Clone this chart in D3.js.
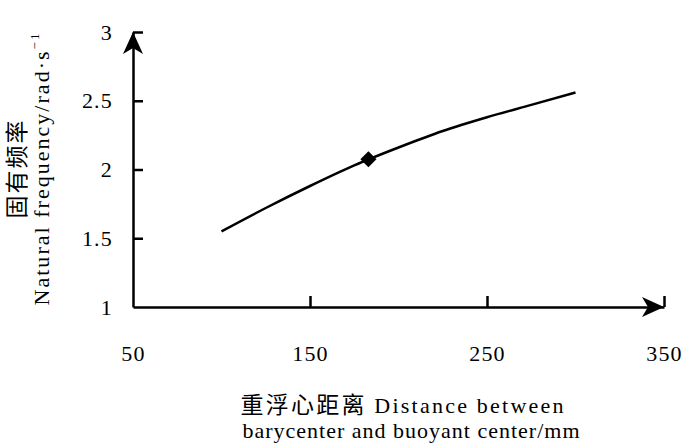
<!DOCTYPE html>
<html>
<head>
<meta charset="utf-8">
<script src="https://cdn.jsdelivr.net/npm/d3@7"></script>
<style>
  body { margin: 0; background: #fff; }
  svg { display: block; }
  text { font-family: "Liberation Serif", "Times New Roman", serif; fill: #000; }
  .cjk { font-family: "Noto Sans CJK SC", sans-serif; }
</style>
</head>
<body>
<svg id="chart"></svg>
<script>
// distance between barycenter and buoyant center (mm) and natural frequency (rad/s)
const distance = [100, 125, 150, 175, 200, 225, 250, 275, 300];
const frequency = [1.55, 1.72, 1.88, 2.03, 2.16, 2.28, 2.38, 2.47, 2.56];
const marker = { distance: 183, frequency: 2.075 };
const xTicks = [50, 150, 250, 350];
const yTicks = [1, 1.5, 2, 2.5, 3];

const width = 700, height = 447;
const margin = { top: 32, right: 36, bottom: 140, left: 133 };

const svg = d3.select("#chart").attr("width", width).attr("height", height);

const x = d3.scaleLinear().domain([50, 350]).range([margin.left, width - margin.right]);
const y = d3.scaleLinear().domain([1, 3]).range([height - margin.bottom, margin.top]);

// X axis
const gx = svg.append("g")
  .attr("transform", `translate(0,${y(1)})`)
  .call(d3.axisBottom(x).tickValues(xTicks).tickFormat(d3.format("d"))
    .tickSizeInner(-11).tickSizeOuter(0).tickPadding(38));
gx.select(".domain").attr("stroke-width", 2.5);
gx.selectAll(".tick line").attr("stroke-width", 2.5);
gx.selectAll(".tick").filter(d => d === 50).select("line").remove();
gx.selectAll("text").style("font-size", "22px").style("letter-spacing", "1.2px")
  .attr("font-family", null);

// Y axis
const gy = svg.append("g")
  .attr("transform", `translate(${x(50)},0)`)
  .call(d3.axisLeft(y).tickValues(yTicks).tickFormat(d3.format(""))
    .tickSizeInner(-10).tickSizeOuter(0).tickPadding(20));
gy.select(".domain").attr("stroke-width", 2.5);
gy.selectAll(".tick line").attr("stroke-width", 2.5);
gy.selectAll(".tick").filter(d => d === 1).select("line").remove();
gy.selectAll("text").style("font-size", "22px").style("letter-spacing", "1.2px")
  .attr("font-family", null);

// arrow heads
const ax = x(350), ay = y(1);
svg.append("path")
  .attr("d", `M${ax},${ay} L${ax - 22},${ay - 10} L${ax - 16},${ay} L${ax - 22},${ay + 10} Z`)
  .attr("fill", "#000");
const bx = x(50), by = y(3);
svg.append("path")
  .attr("d", `M${bx},${by} L${bx - 10},${by + 22} L${bx},${by + 16} L${bx + 10},${by + 22} Z`)
  .attr("fill", "#000");

// curve
const line = d3.line()
  .x((d, i) => x(distance[i]))
  .y(d => y(d))
  .curve(d3.curveMonotoneX);
svg.append("path")
  .datum(frequency)
  .attr("d", line)
  .attr("fill", "none")
  .attr("stroke", "#000")
  .attr("stroke-width", 2.5);

// marker
svg.append("path")
  .attr("d", d3.symbol(d3.symbolSquare, 130)())
  .attr("transform", `translate(${x(marker.distance)},${y(marker.frequency)}) rotate(45)`)
  .attr("fill", "#000");

// Y title
const yt = svg.append("g")
  .attr("transform", `translate(0,${(y(1) + y(3)) / 2}) rotate(-90)`)
  .attr("text-anchor", "middle");
yt.append("text")
  .attr("class", "cjk")
  .attr("y", 25)
  .attr("textLength", 98)
  .attr("lengthAdjust", "spacing")
  .style("font-size", "23px")
  .text("固有频率");
const yl = yt.append("text")
  .attr("y", 49)
  .attr("textLength", 272)
  .attr("lengthAdjust", "spacing")
  .style("font-size", "22px")
  .text("Natural frequency/rad·s");
yl.append("tspan")
  .attr("dy", -10)
  .style("font-size", "13px")
  .text("−1");

// X title
const xt = svg.append("g").attr("text-anchor", "middle");
const l1 = xt.append("text")
  .attr("x", 402)
  .attr("y", 413)
  .attr("textLength", 323)
  .attr("lengthAdjust", "spacing")
  .style("font-size", "22px");
l1.append("tspan").attr("class", "cjk").style("font-size", "23px").text("重浮心距离");
l1.append("tspan").text(" Distance between");
xt.append("text")
  .attr("x", 411)
  .attr("y", 438)
  .attr("textLength", 337)
  .attr("lengthAdjust", "spacing")
  .style("font-size", "22px")
  .text("barycenter and buoyant center/mm");
</script>
</body>
</html>
